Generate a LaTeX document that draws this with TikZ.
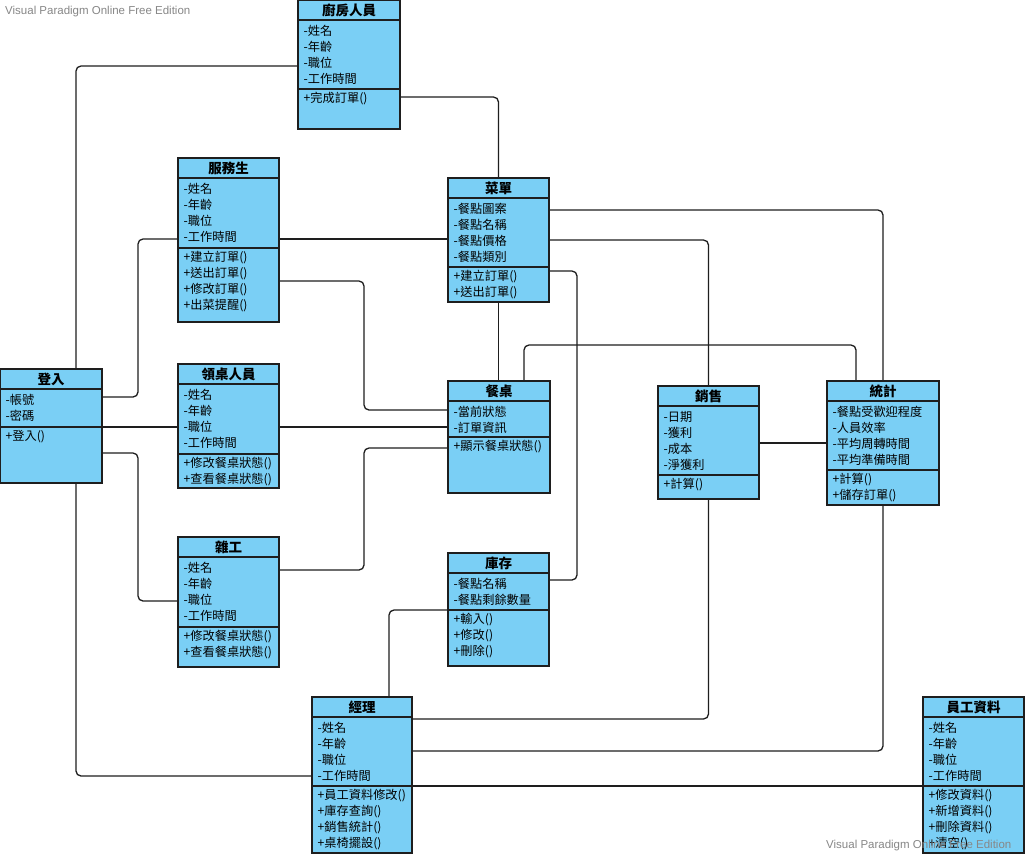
\documentclass[tikz,border=0pt]{standalone}
\usepackage{fontspec}
\setmainfont{Noto Sans CJK TC}
\newfontfamily\markfont{Liberation Sans}
\usetikzlibrary{fit}

\definecolor{classfill}{RGB}{122,207,245}
\definecolor{edgeink}{RGB}{30,30,30}
\definecolor{markgray}{RGB}{135,135,135}

\tikzset{
  classbox/.style={draw=edgeink, fill=classfill, line width=1.3pt, inner sep=0pt},
  rule/.style={draw=edgeink, line width=1.2pt},
  titletext/.style={anchor=base, inner sep=0pt, font=\fontsize{13.5}{16}\selectfont\bfseries},
  membertext/.style={anchor=base west, inner sep=0pt, font=\fontsize{12.2}{16}\selectfont},
  link/.style={draw=edgeink, line width=1.3pt, rounded corners=5pt},
  stamp/.style={anchor=west, inner sep=0pt, text=markgray, font=\markfont\fontsize{11.5}{14}\selectfont}
}

% class box: name, left, top, right, bottom, separator y, title, attributes, operations
\newcommand{\umlclass}[9]{%
  \node[classbox, fit={(#2,#3) (#4,#5)}] (#1) {};
  \draw[rule] (#2,{#3+20}) -- (#4,{#3+20});
  \draw[rule] (#2,#6) -- (#4,#6);
  \node[titletext] (#1-title) at ({(#2+#4)/2},{#3+15.3}) {#7};
  \foreach \txt [count=\k from 0] in {#8}
    \node[membertext] (#1-a\k) at ({#2+5.5},{#3+35.5+16*\k}) {\txt};
  \foreach \txt [count=\k from 0] in {#9}
    \node[membertext] (#1-m\k) at ({#2+5.5},{#6+13.5+16*\k}) {\txt};
}

\begin{document}
\begin{tikzpicture}[x=1pt,y=-1pt]
\useasboundingbox[fill=white] (0,0) rectangle (1025,855);

% classes
\umlclass{kit}{298}{0}{400}{129}{89}{廚房人員}{-姓名,-年齡,-職位,-工作時間}{+完成訂單()}
\umlclass{wait}{178}{158}{279}{322}{248}{服務生}{-姓名,-年齡,-職位,-工作時間}{+建立訂單(),+送出訂單(),+修改訂單(),+出菜提醒()}
\umlclass{menu}{448}{178}{549}{302}{267}{菜單}{-餐點圖案,-餐點名稱,-餐點價格,-餐點類別}{+建立訂單(),+送出訂單()}
\umlclass{login}{0}{369}{102}{483}{427}{登入}{-帳號,-密碼}{+登入()}
\umlclass{host}{178}{364}{279}{488}{454}{領桌人員}{-姓名,-年齡,-職位,-工作時間}{+修改餐桌狀態(),+查看餐桌狀態()}
\umlclass{table}{448}{381}{550}{493}{437}{餐桌}{-當前狀態,-訂單資訊}{+顯示餐桌狀態()}
\umlclass{sales}{658}{386}{759}{499}{475}{銷售}{-日期,-獲利,-成本,-淨獲利}{+計算()}
\umlclass{stat}{827}{381}{939}{505}{470}{統計}{-餐點受歡迎程度,-人員效率,-平均周轉時間,-平均準備時間}{+計算(),+儲存訂單()}
\umlclass{odd}{178}{537}{279}{667}{627}{雜工}{-姓名,-年齡,-職位,-工作時間}{+修改餐桌狀態(),+查看餐桌狀態()}
\umlclass{stock}{448}{553}{549}{666}{610}{庫存}{-餐點名稱,-餐點剩餘數量}{+輸入(),+修改(),+刪除()}
\umlclass{mgr}{312}{697}{412}{853}{786}{經理}{-姓名,-年齡,-職位,-工作時間}{+員工資料修改(),+庫存查詢(),+銷售統計(),+桌椅擺設()}
\umlclass{staff}{923}{697}{1024}{853}{786}{員工資料}{-姓名,-年齡,-職位,-工作時間}{+修改資料(),+新增資料(),+刪除資料(),+清空()}

% associations
\draw[link] (kit.west |- 0,66) -| (76,0 |- login.north);
\draw[link] (kit.east |- 0,97) -| (menu.north);
\draw[link] (wait.east |- 0,239) -- (menu.west |- 0,239);
\draw[link] (wait.west |- 0,239) -| (138,397) -- (login.east |- 0,397);
\draw[link] (menu.east |- 0,210) -| (stat.north);
\draw[link] (menu.east |- 0,240) -| (sales.north);
\draw[link] (menu.east |- 0,271) -| (577,580) -- (stock.east |- 0,580);
\draw[link] (menu.south) -- (menu.south |- table.north);
\draw[link] (wait.east |- 0,281) -| (364,410) -- (table.west |- 0,410);
\draw[link] (login.east |- 0,427) -- (host.west |- 0,427);
\draw[link] (host.east |- 0,427) -- (table.west |- 0,427);
\draw[link] (login.east |- 0,453) -| (138,601) -- (odd.west |- 0,601);
\draw[link] (odd.east |- 0,570) -| (364,448) -- (table.west |- 0,448);
\draw[link] (table.north -| 524,0) |- (856,345) -- (stat.north -| 856,0);
\draw[link] (sales.east |- 0,443) -- (stat.west |- 0,443);
\draw[link] (login.south -| 76,0) |- (mgr.west |- 0,776);
\draw[link] (mgr.north -| 389,0) |- (stock.west |- 0,610);
\draw[link] (mgr.east |- 0,719) -| (sales.south);
\draw[link] (mgr.east |- 0,751) -| (stat.south);
\draw[link] (mgr.east |- 0,786) -- (staff.west |- 0,786);

% edition stamps
\node[stamp] (stampTop) at (5,12) {Visual Paradigm Online Free Edition};
\node[stamp] (stampBottom) at (826,846) {Visual Paradigm Online Free Edition};
\end{tikzpicture}
\end{document}
